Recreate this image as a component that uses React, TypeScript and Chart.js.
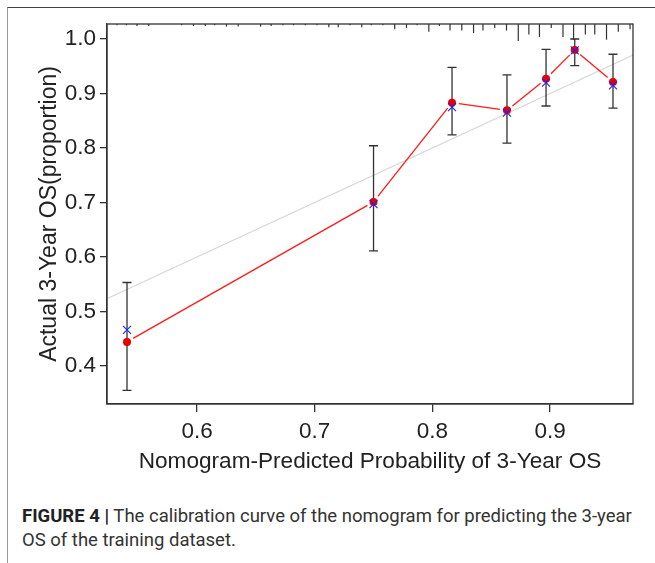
import React, { useEffect, useRef } from "react";
import { Chart, registerables } from "chart.js";

Chart.register(...registerables);

// ---- data ----
const predicted = [0.5405, 0.750, 0.8167, 0.8634, 0.8966, 0.921, 0.9535];
const observed = [0.444, 0.701, 0.883, 0.869, 0.927, 0.980, 0.921];
const biasCorrected = [0.466, 0.697, 0.875, 0.865, 0.920, 0.979, 0.915];
const ciLower = [0.355, 0.611, 0.824, 0.809, 0.877, 0.951, 0.873];
const ciUpper = [0.553, 0.804, 0.948, 0.934, 0.981, 1.000, 0.972];

const rugX = [
  0.532, 0.540, 0.549, 0.559, 0.587, 0.597, 0.607, 0.615, 0.625, 0.635,
  0.654, 0.663, 0.673, 0.682, 0.692, 0.702, 0.712, 0.720, 0.730, 0.740,
  0.748, 0.758, 0.768, 0.778, 0.787, 0.797, 0.806, 0.815, 0.825, 0.835,
  0.843, 0.853, 0.863, 0.873, 0.882, 0.891, 0.901, 0.911, 0.920, 0.930,
  0.938, 0.948, 0.958, 0.968,
];
const rugFreq = [
  1, 1, 1.5, 1.5, 1, 1.5, 1.5, 1, 2, 2,
  2, 1.5, 1, 1, 1, 1, 2.5, 2.5, 1, 2.5,
  1, 1, 4, 3, 1, 6, 1.5, 5, 5, 7,
  5, 3, 5, 13, 8, 10, 3, 10, 12, 8,
  8, 12, 6, 4,
];

const idealLine = [
  { x: 0.4, y: 0.4 },
  { x: 1.0, y: 1.0 },
];

const xTicks = [0.6, 0.7, 0.8, 0.9];
const yTicks = [0.4, 0.5, 0.6, 0.7, 0.8, 0.9, 1.0];
const xRange = [0.5235, 0.9705];
const yRange = [0.330, 1.0275];

const xTitle = "Nomogram-Predicted Probability of 3-Year OS";
const yTitle = "Actual 3-Year OS(proportion)";

const FONT = "'Liberation Sans', Arial, Helvetica, sans-serif";

const overlayPlugin = {
  id: "calibOverlay",
  afterDatasetsDraw(chart: any) {
    const { ctx, chartArea } = chart;
    const xs = chart.scales.x;
    const ys = chart.scales.y;
    ctx.save();
    // rug
    const maxF = Math.max(...rugFreq);
    ctx.strokeStyle = "#333";
    ctx.lineWidth = 1.2;
    rugX.forEach((v, i) => {
      const px = xs.getPixelForValue(v);
      const len = (17 * rugFreq[i]) / maxF;
      ctx.beginPath();
      ctx.moveTo(px, chartArea.top);
      ctx.lineTo(px, chartArea.top + len);
      ctx.stroke();
    });
    // red connecting line with gaps near points
    ctx.strokeStyle = "#ff1a1a";
    ctx.lineWidth = 1.3;
    const gap = 7;
    for (let i = 0; i < predicted.length - 1; i++) {
      const x1 = xs.getPixelForValue(predicted[i]);
      const y1 = ys.getPixelForValue(observed[i]);
      const x2 = xs.getPixelForValue(predicted[i + 1]);
      const y2 = ys.getPixelForValue(observed[i + 1]);
      const d = Math.hypot(x2 - x1, y2 - y1);
      if (d <= 2 * gap) continue;
      const ux = (x2 - x1) / d;
      const uy = (y2 - y1) / d;
      ctx.beginPath();
      ctx.moveTo(x1 + ux * gap, y1 + uy * gap);
      ctx.lineTo(x2 - ux * gap, y2 - uy * gap);
      ctx.stroke();
    }
    // error bars
    ctx.strokeStyle = "#333";
    ctx.lineWidth = 1.3;
    predicted.forEach((v, i) => {
      const px = xs.getPixelForValue(v);
      const lo = ys.getPixelForValue(ciLower[i]);
      const hi = ys.getPixelForValue(ciUpper[i]);
      ctx.beginPath();
      ctx.moveTo(px, lo);
      ctx.lineTo(px, hi);
      ctx.moveTo(px - 4.5, lo);
      ctx.lineTo(px + 4.5, lo);
      ctx.moveTo(px - 4.5, hi);
      ctx.lineTo(px + 4.5, hi);
      ctx.stroke();
    });
    // observed red dots
    ctx.fillStyle = "#e60000";
    predicted.forEach((v, i) => {
      const px = xs.getPixelForValue(v);
      const py = ys.getPixelForValue(observed[i]);
      ctx.beginPath();
      ctx.arc(px, py, 4, 0, Math.PI * 2);
      ctx.fill();
    });
    // bias-corrected blue crosses
    ctx.strokeStyle = "#2020ff";
    ctx.lineWidth = 1.1;
    predicted.forEach((v, i) => {
      const px = xs.getPixelForValue(v);
      const py = ys.getPixelForValue(biasCorrected[i]);
      const s = 4;
      ctx.beginPath();
      ctx.moveTo(px - s, py - s);
      ctx.lineTo(px + s, py + s);
      ctx.moveTo(px - s, py + s);
      ctx.lineTo(px + s, py - s);
      ctx.stroke();
    });
    // box around plot
    ctx.strokeStyle = "#333";
    ctx.lineWidth = 1.3;
    ctx.strokeRect(chartArea.left, chartArea.top, chartArea.right - chartArea.left, chartArea.bottom - chartArea.top);
    ctx.restore();
  },
};

export default function App() {
  const ref = useRef<HTMLCanvasElement | null>(null);
  useEffect(() => {
    if (!ref.current) return;
    const chart = new Chart(ref.current, {
      type: "scatter",
      data: {
        datasets: [
          {
            type: "line",
            data: idealLine,
            borderColor: "#d6d6d6",
            borderWidth: 1.2,
            pointRadius: 0,
            fill: false,
          } as any,
        ],
      },
      options: {
        animation: false,
        responsive: false,
        devicePixelRatio: 1,
        events: [],
        layout: { padding: { left: 0, right: 22, top: 24, bottom: 0 } },
        plugins: { legend: { display: false }, tooltip: { enabled: false } },
        scales: {
          x: {
            type: "linear",
            min: xRange[0],
            max: xRange[1],
            afterBuildTicks: (s: any) => {
              s.ticks = xTicks.map((v) => ({ value: v }));
            },
            afterFit: (s: any) => {
              s.height = 76;
            },
            grid: { drawOnChartArea: false, drawTicks: true, tickLength: 8, color: "#333", lineWidth: 1.3 },
            border: { display: true, color: "#333", width: 1.3 },
            ticks: {
              color: "#222",
              font: { family: FONT, size: 22.5 },
              padding: 6.5,
              callback: (v: any) => Number(v).toFixed(1),
              maxRotation: 0,
              autoSkip: false,
            },
            title: {
              display: true,
              text: xTitle,
              color: "#222",
              font: { family: FONT, size: 22.6 },
              padding: { top: 5, bottom: 5 },
            },
          },
          y: {
            type: "linear",
            min: yRange[0],
            max: yRange[1],
            afterBuildTicks: (s: any) => {
              s.ticks = yTicks.map((v) => ({ value: v }));
            },
            afterFit: (s: any) => {
              s.width = 107;
            },
            grid: { drawOnChartArea: false, drawTicks: true, tickLength: 7, color: "#333", lineWidth: 1.3 },
            border: { display: true, color: "#333", width: 1.3 },
            ticks: {
              color: "#222",
              font: { family: FONT, size: 22.5 },
              padding: 4,
              callback: (v: any) => Number(v).toFixed(1),
              autoSkip: false,
            },
            title: {
              display: true,
              text: yTitle,
              color: "#222",
              font: { family: FONT, size: 23 },
              padding: { top: 36, bottom: 36 },
            },
          },
        },
      },
      plugins: [overlayPlugin],
    });
    return () => chart.destroy();
  }, []);

  return (
    <div style={{ position: "absolute", left: 0, top: 0, width: 655, height: 563, background: "#fff", overflow: "hidden" }}>
      <div
        style={{
          position: "absolute",
          left: 7,
          top: 7,
          width: 660,
          height: 570,
          borderTop: "1.5px solid #444",
          borderLeft: "1.5px solid #999",
        }}
      />
      <canvas ref={ref} width={655} height={480} style={{ position: "absolute", left: 0, top: 0, width: 655, height: 480 }} />
      <div
        style={{
          position: "absolute",
          left: 22,
          top: 504,
          width: 630,
          whiteSpace: "nowrap",
          fontFamily: "Roboto, Arial, sans-serif",
          fontSize: 18.5,
          lineHeight: "24px",
          color: "#333",
        }}
      >
        <b style={{ color: "#222" }}>FIGURE 4 |</b> The calibration curve of the nomogram for predicting the 3-year
        <br />
        OS of the training dataset.
      </div>
    </div>
  );
}
